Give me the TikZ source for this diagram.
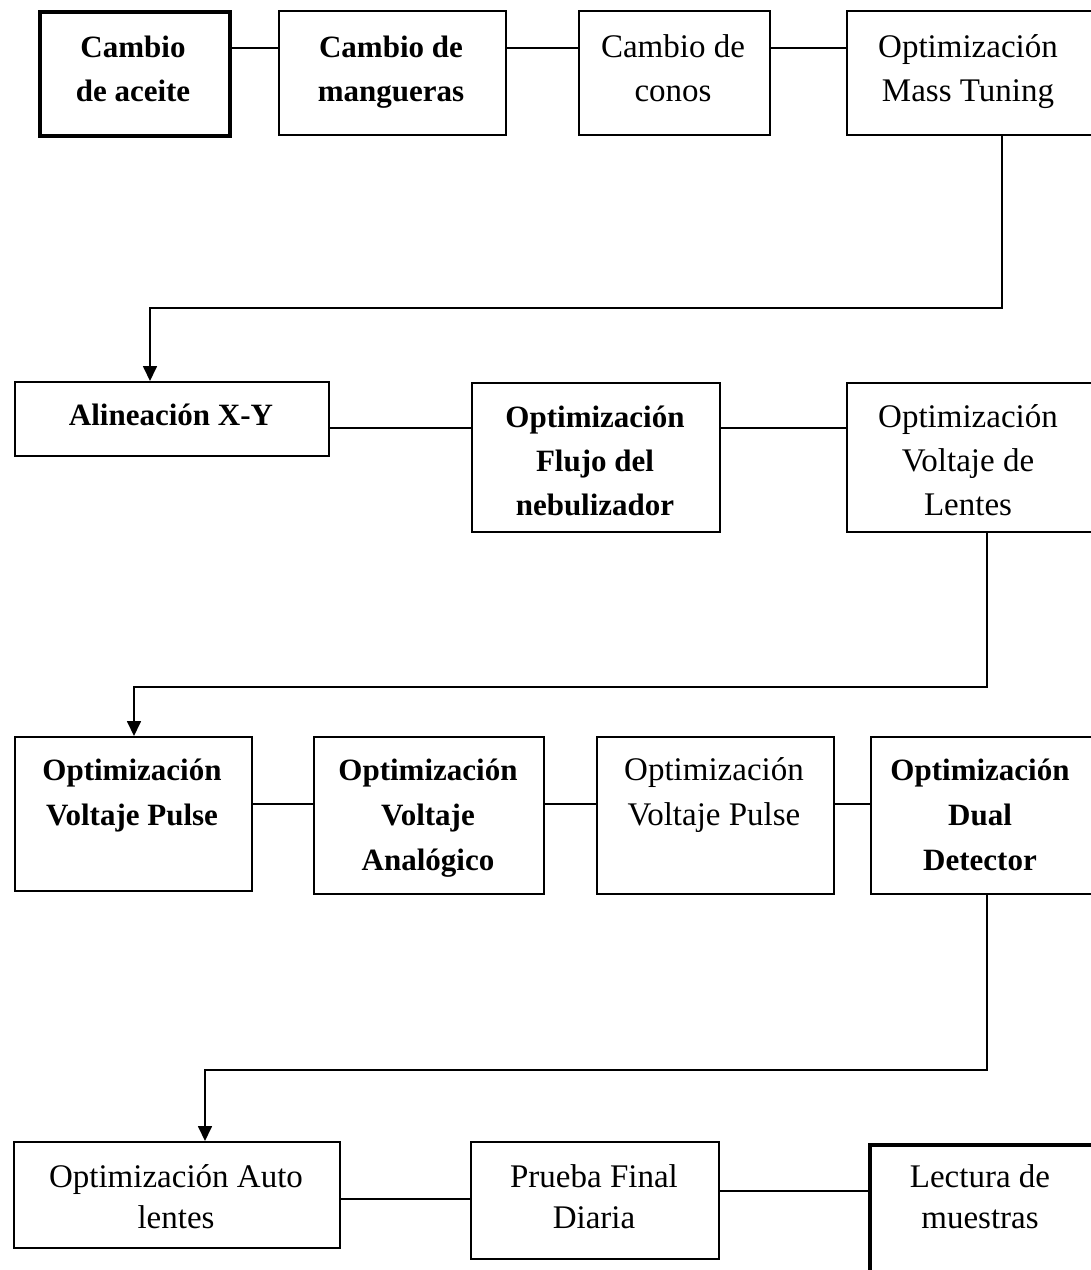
\documentclass[tikz,border=0pt]{standalone}
\usepackage{fontspec}
\setmainfont{Liberation Serif}
\usetikzlibrary{arrows.meta}
\newcommand\txtlines[1]{\begin{tabular}[t]{@{}c@{}}#1\end{tabular}}
\begin{document}
\begin{tikzpicture}[x=1pt,y=-1pt,
  box/.style={draw, line width=1.8pt, inner sep=0pt, anchor=north west},
  heavy/.style={box, line width=3.5pt},
  link/.style={line width=1.7pt},
  arr/.style={link, -{Triangle[length=15pt,width=14pt]}},
  rm/.style={anchor=base, inner sep=0pt, font=\fontsize{33}{#1}\selectfont},
  rm/.default=44,
  bf/.style={anchor=base, inner sep=0pt, font=\fontsize{31}{#1}\selectfont\bfseries},
  bf/.default=44,
]
\useasboundingbox (0,0) rectangle (1091,1270);
\fill[white] (0,0) rectangle (1091,1270);

% boxes
\node[heavy, minimum width=190pt, minimum height=124pt] (A) at (38,10) {};
\node[box, minimum width=227pt, minimum height=124pt] (B) at (278,10) {};
\node[box, minimum width=191pt, minimum height=124pt] (C) at (578,10) {};
\node[box, minimum width=260pt, minimum height=124pt] (D) at (846,10) {};
\node[box, minimum width=314pt, minimum height=74pt] (E) at (14,381) {};
\node[box, minimum width=248pt, minimum height=149pt] (F) at (471,382) {};
\node[box, minimum width=260pt, minimum height=149pt] (G) at (846,382) {};
\node[box, minimum width=237pt, minimum height=154pt] (H) at (14,736) {};
\node[box, minimum width=230pt, minimum height=157pt] (I) at (313,736) {};
\node[box, minimum width=237pt, minimum height=157pt] (J) at (596,736) {};
\node[box, minimum width=236pt, minimum height=157pt] (K) at (870,736) {};
\node[box, minimum width=326pt, minimum height=106pt] (L) at (13,1141) {};
\node[box, minimum width=248pt, minimum height=117pt] (M) at (470,1141) {};
\node[heavy, minimum width=240pt, minimum height=150pt] (N) at (868,1143) {};

% texts
\node[bf] (tA) at (133,57) {\txtlines{Cambio\\de aceite}};
\node[bf] (tB) at (391,57) {\txtlines{Cambio de\\mangueras}};
\node[rm] (tC) at (673,57) {\txtlines{Cambio de\\conos}};
\node[rm] (tD) at (968,57) {\txtlines{Optimización\\Mass Tuning}};
\node[bf] (tE) at (171,425) {Alineación X-Y};
\node[bf] (tF) at (595,427) {\txtlines{Optimización\\Flujo del\\nebulizador}};
\node[rm] (tG) at (968,427) {\txtlines{Optimización\\Voltaje de\\Lentes}};
\node[bf=45] (tH) at (132,780) {\txtlines{Optimización\\Voltaje Pulse}};
\node[bf=45] (tI) at (428,780) {\txtlines{Optimización\\Voltaje\\Analógico}};
\node[rm=45] (tJ) at (714,780) {\txtlines{Optimización\\Voltaje Pulse}};
\node[bf=45] (tK) at (980,780) {\txtlines{Optimización\\Dual\\Detector}};
\node[rm=41] (tL) at (176,1187) {\txtlines{Optimización Auto\\lentes}};
\node[rm=41] (tM) at (594,1187) {\txtlines{Prueba Final\\Diaria}};
\node[rm=41] (tN) at (980,1187) {\txtlines{Lectura de\\muestras}};

% row links
\draw[link] (A.east |- 0,48) -- (B.west |- 0,48);
\draw[link] (B.east |- 0,48) -- (C.west |- 0,48);
\draw[link] (C.east |- 0,48) -- (D.west |- 0,48);
\draw[link] (E.east |- 0,428) -- (F.west |- 0,428);
\draw[link] (F.east |- 0,428) -- (G.west |- 0,428);
\draw[link] (H.east |- 0,804) -- (I.west |- 0,804);
\draw[link] (I.east |- 0,804) -- (J.west |- 0,804);
\draw[link, line width=2.4pt] (J.east |- 0,804) -- (K.west |- 0,804);
\draw[link] (L.east |- 0,1199) -- (M.west |- 0,1199);
\draw[link] (M.east |- 0,1191) -- (N.west |- 0,1191);

% row-to-row arrows
\draw[arr] (1002,0 |- D.south) -- (1002,308) -- (150,308) -- (150,0 |- E.north);
\draw[arr] (987,0 |- G.south) -- (987,687) -- (134,687) -- (134,0 |- H.north);
\draw[arr] (987,0 |- K.south) -- (987,1070) -- (205,1070) -- (205,0 |- L.north);
\end{tikzpicture}
\end{document}
